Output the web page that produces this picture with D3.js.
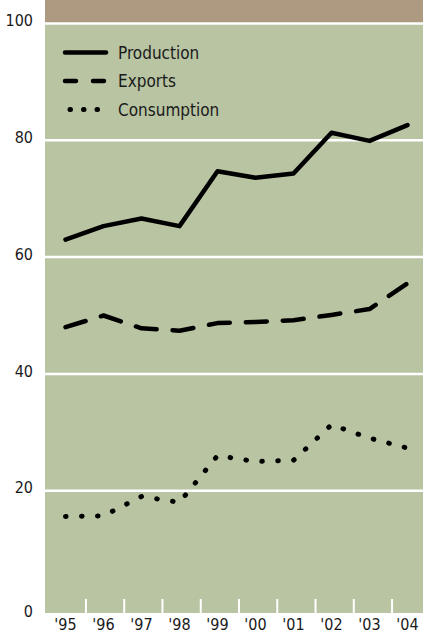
<!DOCTYPE html>
<html><head><meta charset="utf-8">
<script src="https://cdn.jsdelivr.net/npm/d3@7"></script>
<style>
html,body{margin:0;padding:0;background:#fff;}
svg{display:block;}
text{font-family:"DejaVu Sans Condensed","DejaVu Sans",sans-serif;font-stretch:condensed;fill:#1a1a1a;}
</style></head>
<body>
<script>
const years = ["'95","'96","'97","'98","'99","'00","'01","'02","'03","'04"];
const production = [63.0,65.3,66.6,65.3,74.7,73.6,74.3,81.3,79.9,82.6];
const exportsS   = [48.0,50.0,47.8,47.4,48.7,48.9,49.2,50.1,51.1,55.5];
const consumption= [15.6,15.7,19.0,18.0,26.0,25.0,25.2,31.3,29.0,27.3];
const yTicks = [0,20,40,60,80,100];
const seriesNames = ["Production","Exports","Consumption"];

const W=423,H=643;
const svg=d3.select("body").append("svg").attr("width",W).attr("height",H);
const left=45, plotBottom=613;
const y=d3.scaleLinear().domain([0,100]).range([607.5,23.5]);
const x=d3.scalePoint().domain(years).range([65.5,407.5]);
const xb=d3.scaleBand().domain(years).range([47.7,430.3]);

// brown band above 100
svg.append("rect").attr("x",left).attr("y",0).attr("width",W-left).attr("height",y(100)).attr("fill","#ad9a80");
// green plot
svg.append("rect").attr("x",left).attr("y",y(100)).attr("width",W-left).attr("height",plotBottom-y(100)).attr("fill","#b8c4a2");

// gridlines
svg.append("g").selectAll("line").data(yTicks.filter(d=>d>0)).join("line")
  .attr("x1",left).attr("x2",W).attr("y1",d=>y(d)).attr("y2",d=>y(d))
  .attr("stroke","#fff").attr("stroke-width",2.5);

// y labels
svg.append("g").selectAll("text").data(yTicks).join("text")
  .attr("x",33).attr("y",d=>d===0?611:y(d)-3).attr("dy","0.36em")
  .attr("text-anchor","end").attr("font-size",16).text(d=>d);

// x tick marks (between years)
svg.append("g").selectAll("line").data(years.slice(1)).join("line")
  .attr("x1",d=>xb(d)).attr("x2",d=>xb(d)).attr("y1",599).attr("y2",plotBottom)
  .attr("stroke","#fff").attr("stroke-width",2);

// x labels
svg.append("g").selectAll("text").data(years).join("text")
  .attr("x",d=>x(d)).attr("y",630).attr("text-anchor","middle").attr("font-size",16).text(d=>d);

const line=d3.line().x((d,i)=>x(years[i])).y(d=>y(d));
const styles=[
  {data:production,dash:null,w:4.5},
  {data:exportsS,dash:"21,16",w:4.5},
  {data:consumption,dash:"0.6,15.4",w:5}
];
styles.forEach(s=>{
  svg.append("path").attr("d",line(s.data)).attr("fill","none").attr("stroke","#000")
    .attr("stroke-width",s.w).attr("stroke-linecap","round").attr("stroke-linejoin","round")
    .attr("stroke-dasharray",s.dash);
});

// legend
const legY=[52.5,81,109.5];
const legDash=[null,"11,17","0.5,13"];
const lg=svg.append("g");
seriesNames.forEach((n,i)=>{
  lg.append("line").attr("x1",i===2?70:65).attr("x2",i===2?110:106).attr("y1",legY[i]).attr("y2",legY[i])
    .attr("stroke","#000").attr("stroke-width",i===2?5:4.5).attr("stroke-linecap","round")
    .attr("stroke-dasharray",legDash[i]);
  lg.append("text").attr("x",118).attr("y",legY[i]).attr("dy","0.36em").attr("font-size",17).text(n);
});
</script>
</body></html>
